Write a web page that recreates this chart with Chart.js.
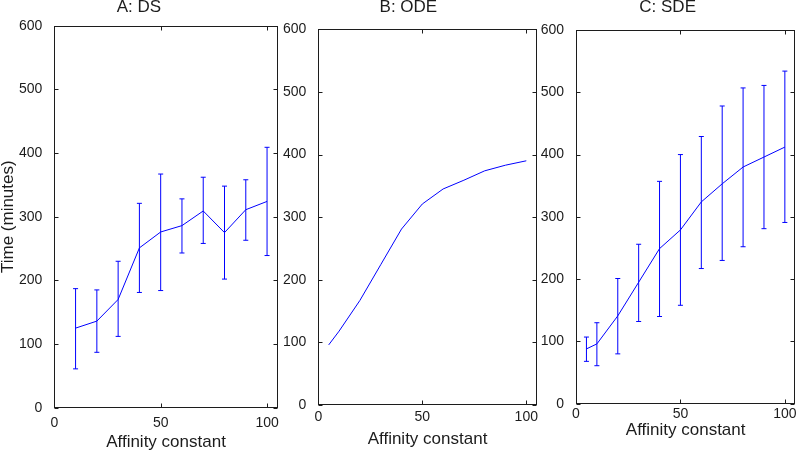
<!DOCTYPE html>
<html>
<head>
<meta charset="utf-8">
<script src="https://cdn.jsdelivr.net/npm/chart.js@4"></script>
<style>
  html, body { margin: 0; padding: 0; background: #fff; overflow: hidden; }
  #wrap { position: relative; width: 797px; height: 452px; }
  canvas { position: absolute; top: 0; }
</style>
</head>
<body>
<div id="wrap">
  <canvas id="panel-a" width="332" height="452" style="left:0px"></canvas>
  <canvas id="panel-b" width="295" height="452" style="left:280px"></canvas>
  <canvas id="panel-c" width="291" height="452" style="left:540px"></canvas>
</div>
<script>
// ── Data ────────────────────────────────────────────────────────────────────
const xTicks = [0, 50, 100];
const yTicks = [0, 100, 200, 300, 400, 500, 600];

// A: DS
const xA    = [10, 20, 30, 40, 50, 60, 70, 80, 90, 100];
const meanA = [125, 136, 170, 251, 276, 286, 309, 275, 311, 324];
const hiA   = [187, 185, 230, 321, 367, 328, 362, 348, 358, 409];
const loA   = [61, 87, 112, 181, 184, 243, 258, 202, 263, 239];

// B: ODE
const xB    = [5, 10, 20, 30, 40, 50, 60, 70, 80, 90, 100];
const meanB = [96, 118, 167, 224, 281, 321, 345, 359, 374, 383, 390];

// C: SDE
const xC    = [5, 10, 20, 30, 40, 50, 60, 70, 80, 90, 100];
const meanC = [88, 96, 141, 195, 249, 279, 324, 353, 380, 396, 412];
const hiC   = [107, 130, 201, 256, 357, 400, 429, 478, 507, 511, 534];
const loC   = [68, 61, 80, 132, 140, 158, 217, 230, 252, 281, 291];

// ── Style ───────────────────────────────────────────────────────────────────
const BLUE = '#0000ff';
const INK = '#1c1c1c';
const FONT = '"Liberation Sans", Arial, Helvetica, sans-serif';
const TICK = 4;
const PAGE_H = 452;

// ── Frame plugin: box + inward ticks on all four sides ──────────────────────
const frame = {
  id: 'frame',
  afterDatasetsDraw(chart) {
    const { ctx, chartArea: a, scales: { x, y } } = chart;
    const L = Math.round(a.left) + 0.5, R = Math.round(a.right) - 0.5;
    const T = Math.round(a.top) + 0.5, B = Math.round(a.bottom) - 0.5;
    ctx.save();
    ctx.strokeStyle = INK;
    ctx.lineWidth = 1;
    ctx.strokeRect(L, T, R - L, B - T);
    ctx.beginPath();
    x.ticks.forEach(t => {
      const px = Math.round(x.getPixelForValue(t.value)) + 0.5;
      ctx.moveTo(px, B); ctx.lineTo(px, B - TICK);
      ctx.moveTo(px, T); ctx.lineTo(px, T + TICK);
    });
    y.ticks.forEach(t => {
      const py = Math.round(y.getPixelForValue(t.value)) + 0.5;
      ctx.moveTo(L, py); ctx.lineTo(L + TICK, py);
      ctx.moveTo(R, py); ctx.lineTo(R - TICK, py);
    });
    ctx.stroke();
    ctx.restore();
  }
};

// ── Helpers ─────────────────────────────────────────────────────────────────
const pts = (xs, ys) => xs.map((x, i) => ({ x, y: ys[i] }));

function errorSets(xs, lo, hi) {
  const stems = xs.flatMap((x, i) => [{ x, y: lo[i] }, { x, y: hi[i] }, { x, y: null }]);
  const caps = xs.flatMap((x, i) => [{ x, y: lo[i] }, { x, y: hi[i] }]);
  return [
    { data: stems, borderColor: BLUE, borderWidth: 1, pointRadius: 0, spanGaps: false },
    { data: caps, showLine: false, pointStyle: 'line', pointRadius: 2.5,
      borderColor: BLUE, pointBorderWidth: 1 }
  ];
}

function makePanel(id, cfg) {
  const canvas = document.getElementById(id);
  const cLeft = parseFloat(canvas.style.left);
  const a = cfg.area;
  const yW = a.left - cLeft;
  const xH = cfg.xTitleY + 8.5 - a.bottom;

  const datasets = [
    { data: pts(cfg.xs, cfg.mean), borderColor: BLUE, borderWidth: 1, pointRadius: 0, tension: 0 }
  ];
  if (cfg.lo) datasets.push(...errorSets(cfg.xs, cfg.lo, cfg.hi));

  new Chart(canvas, {
    type: 'line',
    data: { datasets },
    plugins: [frame],
    options: {
      responsive: false,
      animation: false,
      devicePixelRatio: 1,
      layout: {
        padding: {
          left: 0,
          right: canvas.width - (a.right - cLeft),
          top: 0,
          bottom: PAGE_H - a.bottom - xH
        }
      },
      plugins: {
        legend: { display: false },
        tooltip: { enabled: false },
        title: {
          display: true,
          text: cfg.title,
          color: INK,
          font: { family: FONT, size: 17, weight: 'normal', lineHeight: 1 },
          padding: { top: -1.5, bottom: a.top - 17 + 1.5 }
        }
      },
      scales: {
        x: {
          type: 'linear',
          min: 0, max: 105,
          offset: false,
          grid: { display: false },
          border: { display: false },
          afterBuildTicks: s => { s.ticks = xTicks.map(v => ({ value: v })); },
          ticks: { color: INK, font: { family: FONT, size: 14, lineHeight: 1 },
                   padding: cfg.xTickPad, maxRotation: 0 },
          title: { display: true, text: 'Affinity constant', color: INK, padding: 0,
                   font: { family: FONT, size: 17, lineHeight: 1 } },
          afterFit: s => { s.height = xH; s.paddingLeft = 0; s.paddingRight = 0; }
        },
        y: {
          min: 0, max: 600,
          grid: { display: false },
          border: { display: false },
          afterBuildTicks: s => { s.ticks = yTicks.map(v => ({ value: v })); },
          ticks: { color: INK, font: { family: FONT, size: 14, lineHeight: 1 }, padding: 4 },
          title: { display: !!cfg.yTitle, text: cfg.yTitle || '', color: INK, padding: 0,
                   font: { family: FONT, size: 17, lineHeight: 1 } },
          afterFit: s => { s.width = yW; s.paddingTop = 0; s.paddingBottom = 0; }
        }
      }
    }
  });
}

// ── Panels ──────────────────────────────────────────────────────────────────
makePanel('panel-a', {
  title: 'A: DS', yTitle: 'Time (minutes)',
  xs: xA, mean: meanA, lo: loA, hi: hiA,
  area: { left: 54.3, right: 277.7, top: 25.7, bottom: 407.7 },
  xTickPad: 0, xTitleY: 442
});

makePanel('panel-b', {
  title: 'B: ODE',
  xs: xB, mean: meanB,
  area: { left: 318.3, right: 536.7, top: 29.3, bottom: 405 },
  xTickPad: -2.5, xTitleY: 439.5
});

makePanel('panel-c', {
  title: 'C: SDE',
  xs: xC, mean: meanC, lo: loC, hi: hiC,
  area: { left: 576, right: 795.3, top: 30, bottom: 403.7 },
  xTickPad: -4.4, xTitleY: 430.5
});
</script>
</body>
</html>
